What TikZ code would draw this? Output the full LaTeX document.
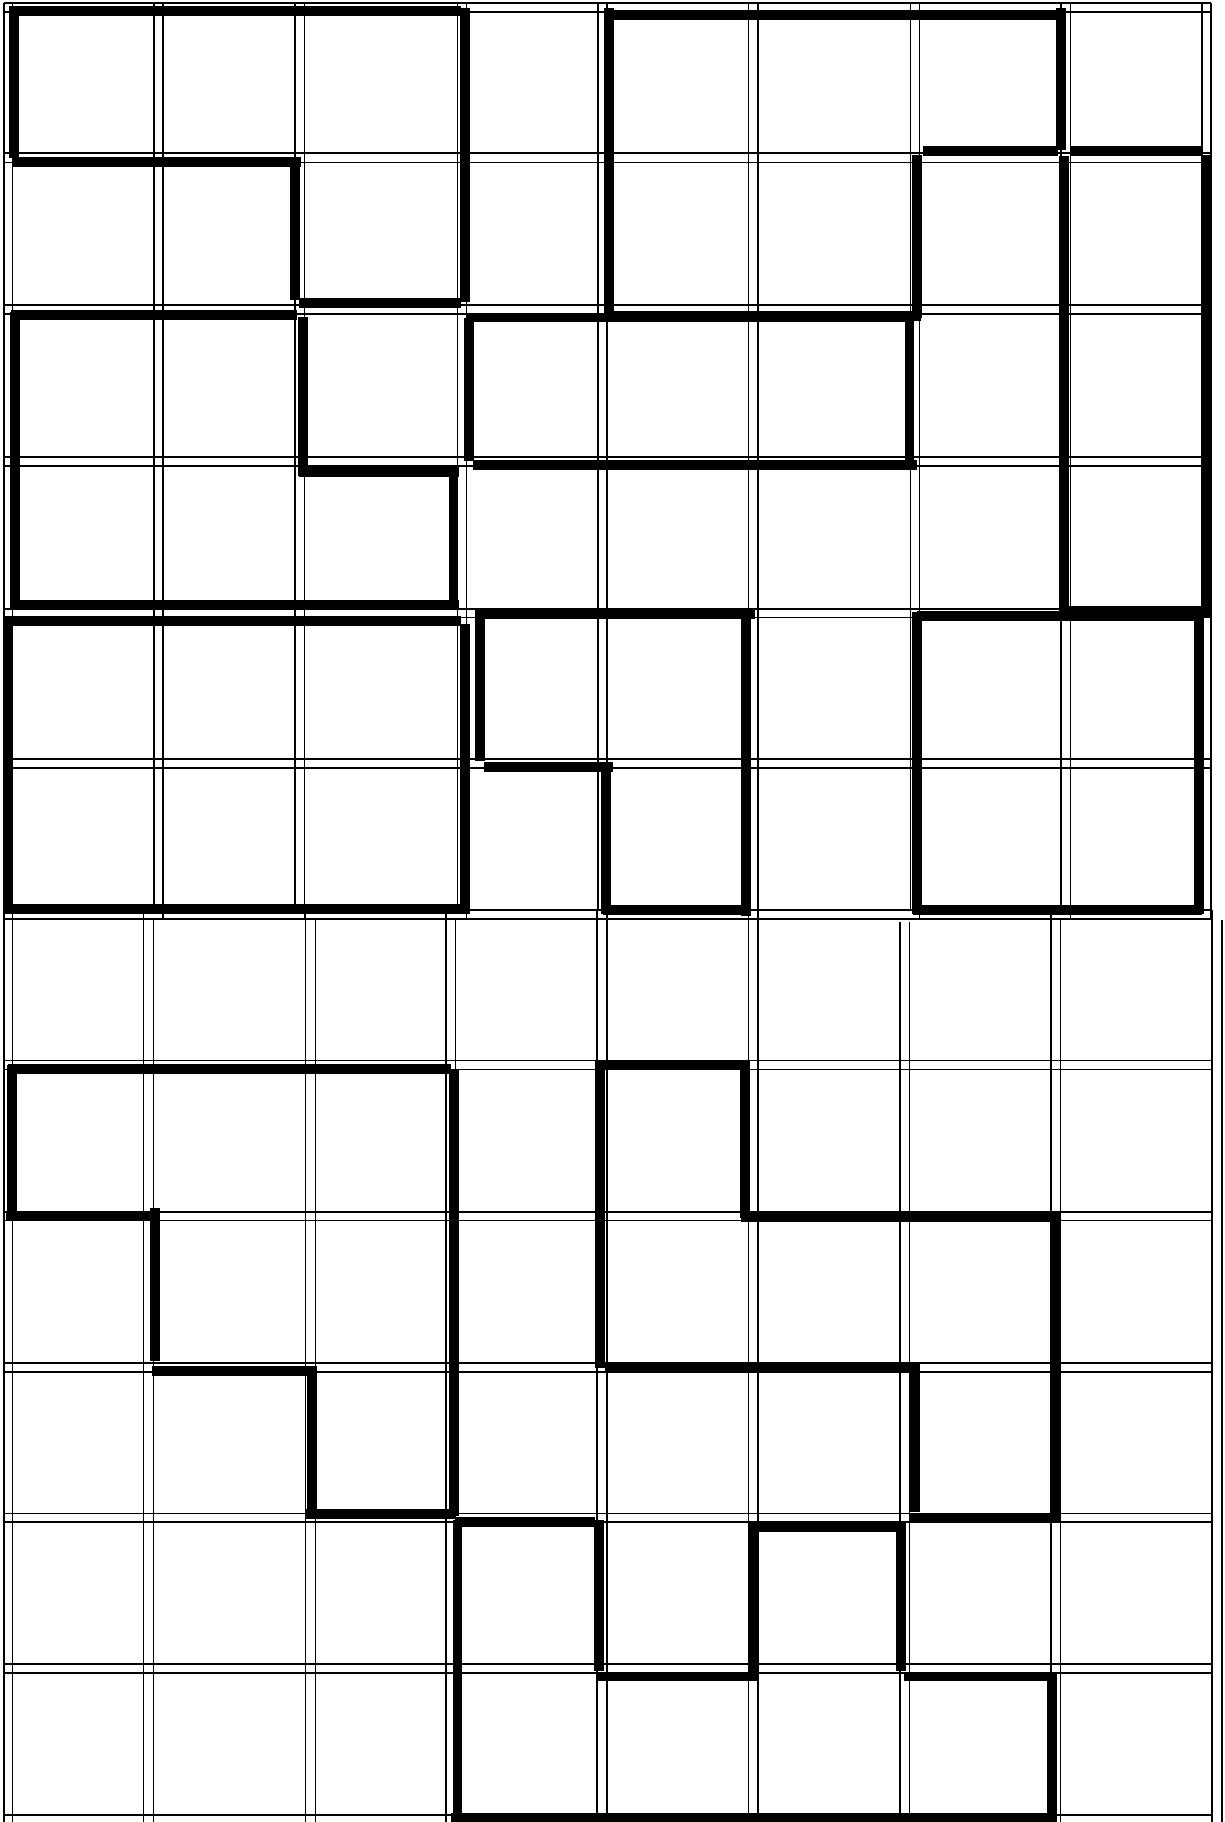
\documentclass[tikz,border=0pt]{standalone}
\begin{document}
\begin{tikzpicture}[x=0.01cm, y=-0.01cm,
  gridline/.style={line width=0.35pt, black},
  wall/.style={line width=2.8pt, black}]
\useasboundingbox (0,0) rectangle (1225,1822);
% upper grid, drawn twice with a small shift
\foreach \x in {4,154,295,457.5,598,748.5,910.6,1061,1202} \draw[gridline] (\x,3) -- (\x,910);
\foreach \y in {3,153,305,457,609,759,910} \draw[gridline] (4,\y) -- (1211,\y);
\foreach \x in {12.7,163,304.5,466.6,607,758,919.7,1070.5,1211} \draw[gridline] (\x,3) -- (\x,919);
\foreach \y in {12,162.5,314,466,617.5,768,919} \draw[gridline] (4,\y) -- (1211,\y);
% lower grid
\foreach \x in {4,143.5,305.6,446,597,748.5,1051,1212} \draw[gridline] (\x,910) -- (\x,1822);
\foreach \x in {900,909.5} \draw[gridline] (\x,922) -- (\x,1822);
\foreach \y in {1060.6,1212,1363,1513.6,1664,1815} \draw[gridline] (4,\y) -- (1212,\y);
\foreach \x in {12.7,153.4,315.5,455.5,607,758,1060.5,1222} \draw[gridline] (\x,919.5) -- (\x,1822);
\foreach \y in {1069.7,1220.6,1372,1522,1673} \draw[gridline] (4,\y) -- (1212,\y);
% pieces, upper grid
\draw[wall] (8.7,11) -- (460.7,11);
\draw[wall] (465.4,8) -- (465.4,302.5);
\draw[wall] (13.8,6) -- (13.8,158);
\draw[wall] (12,162) -- (300.5,162);
\draw[wall] (295.4,158) -- (295.4,300);
\draw[wall] (298.5,303.3) -- (460.7,303.3);
\draw[wall] (11,315) -- (297,315);
\draw[wall] (303,317.5) -- (303,476.5);
\draw[wall] (298.5,471.7) -- (458.7,471.7);
\draw[wall] (453.5,466.6) -- (453.5,609);
\draw[wall] (11,605) -- (458.7,605);
\draw[wall] (15,312) -- (15,609);
\draw[wall] (469.4,318) -- (469.4,460.7);
\draw[wall] (466.6,317.5) -- (912,317.5);
\draw[wall] (909.5,319) -- (909.5,460.7);
\draw[wall] (472.5,464.6) -- (917.4,464.6);
\draw[wall] (605,15) -- (1063.7,15);
\draw[wall] (609,8) -- (609,316);
\draw[wall] (1061,8) -- (1061,150);
\draw[wall] (923.3,151) -- (1057.7,151);
\draw[wall] (917.4,155) -- (917.4,318.3);
\draw[wall] (605,316) -- (921,316);
\draw[wall] (1069.6,151) -- (1202,151);
\draw[wall] (1063.7,156) -- (1063.7,617);
\draw[wall] (1207,155) -- (1207,617);
\draw[wall] (1063.7,611) -- (1202,611);
\draw[wall] (4,620.6) -- (460.7,620.6);
\draw[wall] (8,616) -- (8,912);
\draw[wall] (465.4,624) -- (465.4,914);
\draw[wall] (4,909) -- (468.6,909);
\draw[wall] (476.5,614) -- (754.5,614);
\draw[wall] (480.4,610) -- (480.4,761);
\draw[wall] (484.4,767) -- (613,767);
\draw[wall] (605.8,762) -- (605.8,914);
\draw[wall] (603,909.6) -- (749,909.6);
\draw[wall] (745.8,610) -- (745.8,916);
\draw[wall] (917.4,612) -- (917.4,914);
\draw[wall] (917,615.8) -- (1202,615.8);
\draw[wall] (1199.3,608) -- (1199.3,914);
\draw[wall] (913.4,909.6) -- (1202,909.6);
% pieces, lower grid
\draw[wall] (8,1069.4) -- (450.8,1069.4);
\draw[wall] (11.9,1064.6) -- (11.9,1218);
\draw[wall] (6,1215.8) -- (158,1215.8);
\draw[wall] (155.4,1208) -- (155.4,1361);
\draw[wall] (152,1370.8) -- (314,1370.8);
\draw[wall] (311.6,1366) -- (311.6,1518);
\draw[wall] (306.4,1514.4) -- (454.7,1514.4);
\draw[wall] (454,1068.6) -- (454,1516);
\draw[wall] (595,1064.6) -- (749,1064.6);
\draw[wall] (745,1061) -- (745,1218);
\draw[wall] (741,1216.6) -- (1060,1216.6);
\draw[wall] (1055.8,1212) -- (1055.8,1520);
\draw[wall] (909.5,1518) -- (1060,1518);
\draw[wall] (914.6,1364) -- (914.6,1512);
\draw[wall] (605,1367) -- (919,1367);
\draw[wall] (600,1061) -- (600,1368);
\draw[wall] (457.5,1520) -- (457.5,1822);
\draw[wall] (454.7,1522) -- (595,1522);
\draw[wall] (599,1520) -- (599,1670.5);
\draw[wall] (597,1676.5) -- (757,1676.5);
\draw[wall] (753.3,1522) -- (753.3,1680);
\draw[wall] (749,1527) -- (905.5,1527);
\draw[wall] (900.8,1524) -- (900.8,1670.5);
\draw[wall] (904,1676.5) -- (1057,1676.5);
\draw[wall] (1051.8,1672.5) -- (1051.8,1822);
\draw[wall] (450.8,1817.6) -- (1055.8,1817.6);
\end{tikzpicture}
\end{document}
